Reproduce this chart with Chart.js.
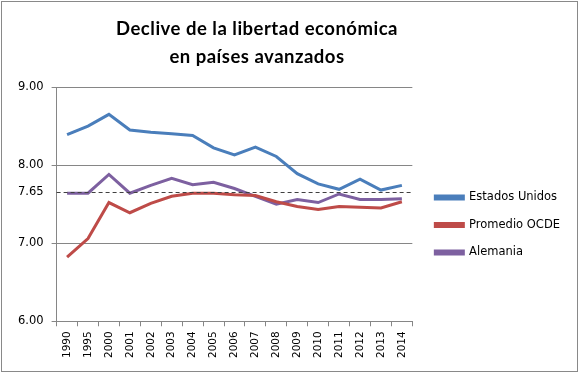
<!DOCTYPE html>
<html>
<head>
<meta charset="utf-8">
<script src="https://cdn.jsdelivr.net/npm/chart.js@4/dist/chart.umd.min.js"></script>
<style>
  html, body { margin: 0; padding: 0; background: #fff; }
  #wrap { position: relative; width: 580px; height: 374px; }
  #c { position: absolute; left: 0; top: 0; }
  #title { position: absolute; left: 0; top: 14px; width: 514px; text-align: center;
           font-family: Lato, "Open Sans", sans-serif; font-weight: bold; font-size: 18.5px;
           letter-spacing: 0.5px; line-height: 28px; color: #000; }
  #frame { position: absolute; left: 1px; top: 1px; width: 575px; height: 369px;
           border: 1px solid #898989; pointer-events: none; }
</style>
</head>
<body>
<div id="wrap">
  <canvas id="c" width="580" height="374"></canvas>
  <div id="title">Declive de la libertad económica<br>en países avanzados</div>
  <div id="frame"></div>
</div>
<script>
const years = ['1990','1995','2000','2001','2002','2003','2004','2005','2006','2007','2008','2009','2010','2011','2012','2013','2014'];
const estadosUnidos = [8.39, 8.50, 8.65, 8.45, 8.42, 8.40, 8.38, 8.22, 8.13, 8.23, 8.11, 7.89, 7.76, 7.69, 7.82, 7.68, 7.74];
const promedioOCDE  = [6.82, 7.06, 7.52, 7.39, 7.51, 7.60, 7.64, 7.64, 7.62, 7.61, 7.53, 7.47, 7.43, 7.47, 7.46, 7.45, 7.53];
const alemania      = [7.64, 7.64, 7.88, 7.64, 7.74, 7.83, 7.75, 7.78, 7.70, 7.60, 7.50, 7.56, 7.52, 7.63, 7.56, 7.56, 7.57];
const yTickValues   = [6.00, 7.00, 7.65, 8.00, 9.00];
const referenceLevel = 7.65;

const refLine = {
  id: 'refLine',
  afterDatasetsDraw(chart) {
    const { ctx, chartArea, scales } = chart;
    const y = Math.round(scales.y.getPixelForValue(referenceLevel)) + 0.5;
    ctx.save();
    ctx.strokeStyle = '#404040';
    ctx.lineWidth = 1;
    ctx.setLineDash([4, 3]);
    ctx.beginPath();
    ctx.moveTo(chartArea.left, y);
    ctx.lineTo(chartArea.right, y);
    ctx.stroke();
    ctx.restore();
  }
};

const gray = '#868686';
new Chart(document.getElementById('c'), {
  type: 'line',
  data: {
    labels: years,
    datasets: [
      { label: 'Estados Unidos', data: estadosUnidos, borderColor: '#4A7EBB', backgroundColor: '#4A7EBB' },
      { label: 'Promedio OCDE', data: promedioOCDE, borderColor: '#BE4B48', backgroundColor: '#BE4B48' },
      { label: 'Alemania', data: alemania, borderColor: '#7D60A0', backgroundColor: '#7D60A0' }
    ]
  },
  options: {
    responsive: false,
    animation: false,
    devicePixelRatio: 1,
    elements: { line: { borderWidth: 3, tension: 0 }, point: { radius: 0 } },
    layout: { padding: { left: 10, right: 10, top: 87, bottom: 11 } },
    plugins: {
      title: { display: false },
      tooltip: { enabled: false },
      legend: {
        position: 'right',
        maxWidth: 220,
        labels: {
          boxWidth: 28, boxHeight: 3, padding: 16,
          color: '#000',
          font: { family: 'DejaVu Sans', size: 11.5 }
        }
      }
    },
    scales: {
      x: {
        offset: true,
        grid: { offset: true, drawOnChartArea: false, color: gray, tickLength: 5 },
        border: { color: gray, width: 1 },
        ticks: { minRotation: 90, maxRotation: 90, autoSkip: false, padding: 5, color: '#000',
                 font: { family: 'DejaVu Sans', size: 10.5 } }
      },
      y: {
        min: 6, max: 9,
        afterBuildTicks(scale) { scale.ticks = yTickValues.map(v => ({ value: v })); },
        grid: {
          color: ctx => (ctx.tick && Math.abs(ctx.tick.value - referenceLevel) < 1e-6) ? 'rgba(0,0,0,0)' : gray,
          tickLength: 5
        },
        border: { color: gray, width: 1 },
        ticks: { padding: 8, color: '#000', font: { family: 'DejaVu Sans', size: 11.5 },
                 callback: v => Number(v).toFixed(2) }
      },
      gap: {
        type: 'linear', position: 'right', display: true,
        grid: { display: false }, border: { display: false }, ticks: { display: false },
        afterFit(scale) { scale.width = 7; }
      }
    }
  },
  plugins: [refLine]
});
</script>
</body>
</html>
